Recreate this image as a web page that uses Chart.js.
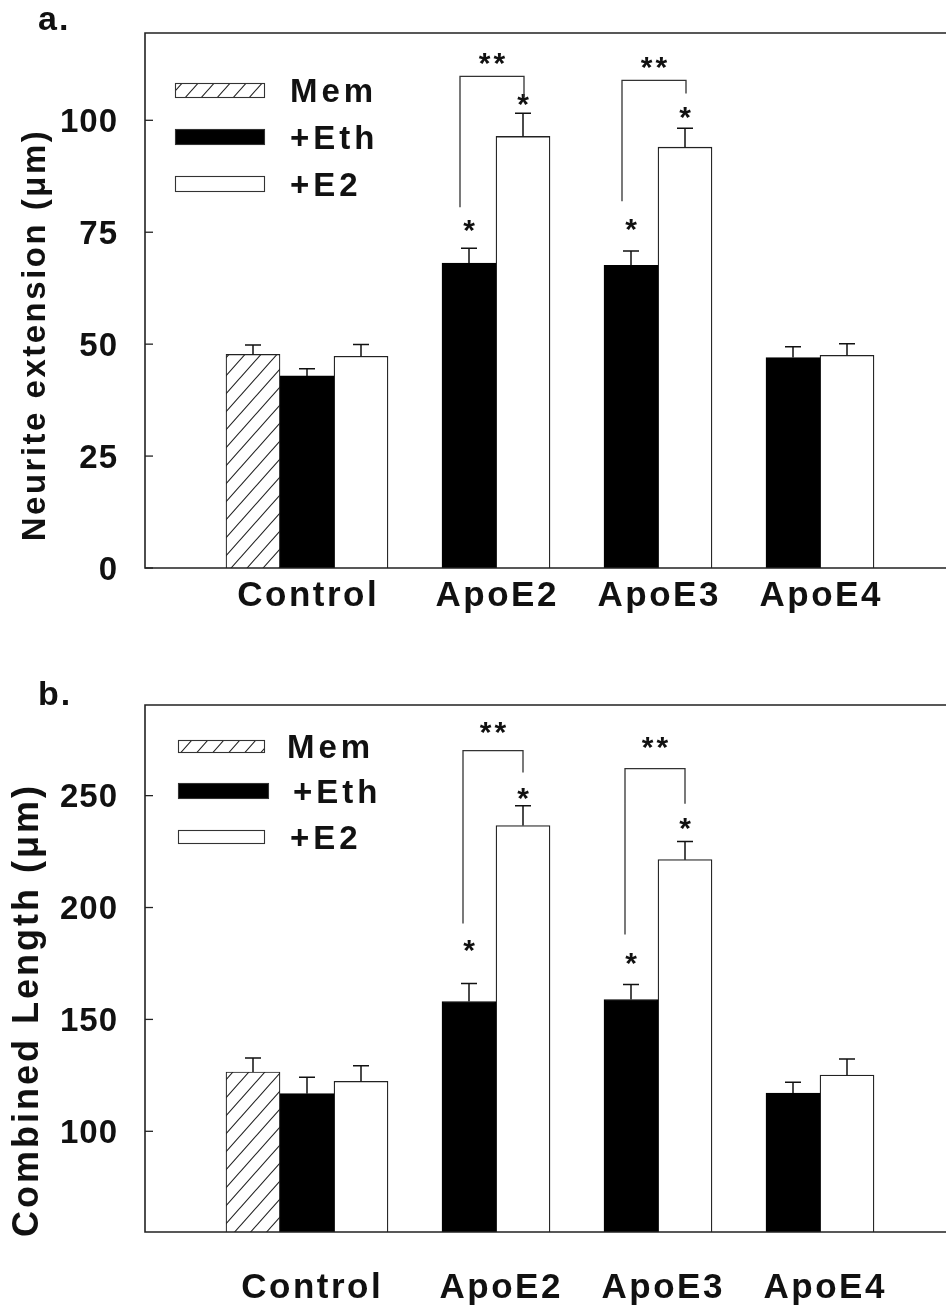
<!DOCTYPE html>
<html><head><meta charset="utf-8">
<script src="https://cdn.jsdelivr.net/npm/chart.js@4"></script>
<style>
html,body{margin:0;padding:0;background:#fff;overflow:hidden;width:946px;height:1305px;}
#wrap{position:relative;width:946px;height:1305px;overflow:hidden;background:#fff;}
canvas{position:absolute;left:0;display:block;}
</style></head><body>
<div id="wrap">
<canvas id="ca" width="1000" height="650" style="top:0;width:1000px;height:650px"></canvas>
<canvas id="cb" width="1000" height="655" style="top:650px;width:1000px;height:655px"></canvas>
</div>
<script>
// ---------- data ----------
const categories = ['Control', 'ApoE2', 'ApoE3', 'ApoE4'];
const seriesNames = ['Mem', '+Eth', '+E2'];

// panel a: Neurite extension (um)
const aMem    = [47.7, null, null, null];
const aMemErr = [2.1, null, null, null];
const aEth    = [42.9, 68.1, 67.6, 47.0];
const aEthErr = [1.6, 3.3, 3.2, 2.4];
const aE2     = [47.3, 96.4, 94.0, 47.5];
const aE2Err  = [2.6, 5.2, 4.2, 2.6];
const aTicks  = [0, 25, 50, 75, 100];
const aRange  = [0, 119.5];
// single stars: [category, series index, y value]
const aStars  = [['ApoE2', 1, 76.3], ['ApoE2', 2, 104.5], ['ApoE3', 1, 76.6], ['ApoE3', 2, 101.6]];
// brackets: [category, left foot, top, right foot, "**" level]
const aBrackets = [['ApoE2', 80.6, 109.8, 105.1, 113.8], ['ApoE3', 81.9, 108.9, 106.0, 112.7]];

// panel b: Combined Length (um)
const bMem    = [126.5, null, null, null];
const bMemErr = [6.2, null, null, null];
const bEth    = [116.8, 158.0, 158.9, 117.1];
const bEthErr = [7.4, 8.1, 6.7, 4.8];
const bE2     = [122.3, 236.6, 221.4, 125.1];
const bE2Err  = [7.0, 8.9, 8.1, 7.2];
const bTicks  = [100, 150, 200, 250];
const bRange  = [55, 290.5];
const bStars  = [['ApoE2', 1, 182.6], ['ApoE2', 2, 250.9], ['ApoE3', 1, 176.8], ['ApoE3', 2, 237.1]];
const bBrackets = [['ApoE2', 192.9, 270.1, 260.3, 280.4], ['ApoE3', 187.9, 262.1, 246.4, 273.7]];

// ---------- styles ----------
const FONT = "'Liberation Sans', Arial, Helvetica, sans-serif";
function makeHatch(w, h) {
  const c = document.createElement('canvas'); c.width = w; c.height = h;
  const g = c.getContext('2d');
  g.fillStyle = '#fff'; g.fillRect(0, 0, w, h);
  g.strokeStyle = '#222'; g.lineWidth = 1.1;
  g.beginPath();
  for (let k = -1; k <= 1; k++) { g.moveTo(-w + k * w, 2 * h); g.lineTo(2 * w + k * w, -h); }
  g.stroke();
  return g.createPattern(c, 'repeat');
}
const hatchA = makeHatch(16, 18);

function textCentered(ctx, text, x, y) {
  const m = ctx.measureText(text);
  const asc = m.actualBoundingBoxAscent, desc = m.actualBoundingBoxDescent;
  ctx.textBaseline = 'alphabetic';
  ctx.fillText(text, x, y + (asc - desc) / 2);
}

const panelPlugin = {
  id: 'panel',
  afterDatasetsDraw(chart, args, o) {
    const ctx = chart.ctx;
    const { left, top, bottom } = chart.chartArea;
    const ys = chart.scales.y;
    const W = chart.width;
    const labels = chart.data.labels;
    const barAt = (cat, d) => chart.getDatasetMeta(d).data[labels.indexOf(cat)];
    ctx.save();
    // error bars (upper only)
    ctx.strokeStyle = '#111'; ctx.lineWidth = 1.5;
    chart.data.datasets.forEach((ds, d) => {
      const meta = chart.getDatasetMeta(d);
      ds.data.forEach((v, i) => {
        if (v == null) return;
        const el = meta.data[i];
        const yt = ys.getPixelForValue(v + ds.errs[i]);
        ctx.beginPath();
        ctx.moveTo(el.x, el.y); ctx.lineTo(el.x, yt);
        ctx.moveTo(el.x - 8, yt); ctx.lineTo(el.x + 8, yt);
        ctx.stroke();
      });
    });
    // frame
    ctx.strokeStyle = '#222'; ctx.lineWidth = 1.6;
    ctx.beginPath();
    ctx.moveTo(W, top); ctx.lineTo(left, top); ctx.lineTo(left, bottom); ctx.lineTo(W, bottom);
    ctx.stroke();
    // inward y ticks + labels
    ctx.lineWidth = 1.3;
    ctx.fillStyle = '#111';
    ctx.font = `bold 33px ${FONT}`;
    ctx.letterSpacing = '1px';
    ctx.textAlign = 'right';
    ys.ticks.forEach(t => {
      const y = ys.getPixelForValue(t.value);
      ctx.beginPath(); ctx.moveTo(left, y); ctx.lineTo(left + 8, y); ctx.stroke();
      textCentered(ctx, String(t.value), left - 27, y);
    });
    // x category labels centred on the bars present in each group
    ctx.textAlign = 'center';
    ctx.font = `bold 35px ${FONT}`;
    ctx.letterSpacing = '2.5px';
    categories.forEach(cat => {
      const xsList = [];
      chart.data.datasets.forEach((ds, d) => {
        const i = labels.indexOf(cat);
        if (ds.data[i] != null) xsList.push(chart.getDatasetMeta(d).data[i].x);
      });
      const cx = xsList.reduce((a, b) => a + b, 0) / xsList.length;
      ctx.textBaseline = 'alphabetic';
      ctx.fillText(cat, cx + o.xLabelDx + 1.25, o.xLabelBase);
    });
    // y title
    ctx.save();
    ctx.translate(o.titleX, o.titleY);
    ctx.rotate(-Math.PI / 2);
    ctx.font = `bold ${o.titleSize}px ${FONT}`;
    ctx.letterSpacing = o.titleSpacing + 'px';
    ctx.textAlign = 'center';
    textCentered(ctx, o.title, 0, 0);
    ctx.restore();
    // panel letter
    ctx.font = `bold 34px ${FONT}`;
    ctx.letterSpacing = '2px';
    ctx.textAlign = 'left';
    ctx.textBaseline = 'alphabetic';
    ctx.fillText(o.letter, o.letterX, o.letterY);
    // legend
    const L = o.legend;
    const fills = [hatchA, '#000', '#fff'];
    L.items.forEach((it, k) => {
      ctx.fillStyle = fills[k];
      ctx.fillRect(L.x, it.y, it.w, it.h);
      ctx.strokeStyle = '#333'; ctx.lineWidth = 1.1;
      ctx.strokeRect(L.x + 0.5, it.y + 0.5, it.w - 1, it.h - 1);
      ctx.fillStyle = '#111';
      ctx.font = `bold 33px ${FONT}`;
      ctx.letterSpacing = '4px';
      ctx.textAlign = 'left';
      textCentered(ctx, seriesNames[k], it.tx, it.y + it.h / 2);
    });
    // significance stars
    ctx.letterSpacing = '0px';
    ctx.font = `bold 30px ${FONT}`;
    ctx.textAlign = 'center';
    o.stars.forEach(([cat, d, v]) => {
      const el = barAt(cat, d);
      textCentered(ctx, '*', el.x, ys.getPixelForValue(v));
    });
    // brackets
    ctx.strokeStyle = '#333'; ctx.lineWidth = 1.3;
    o.brackets.forEach(([cat, lf, tp, rf, lv]) => {
      const x1 = barAt(cat, 1).x + o.bracketDx[0];
      const x2 = barAt(cat, 2).x + o.bracketDx[1];
      ctx.beginPath();
      ctx.moveTo(x1, ys.getPixelForValue(lf));
      ctx.lineTo(x1, ys.getPixelForValue(tp));
      ctx.lineTo(x2, ys.getPixelForValue(tp));
      ctx.lineTo(x2, ys.getPixelForValue(rf));
      ctx.stroke();
      ctx.letterSpacing = '3px';
      textCentered(ctx, '**', (x1 + x2) / 2 + 1.5, ys.getPixelForValue(lv));
      ctx.letterSpacing = '0px';
    });
    ctx.restore();
  }
};

function makeChart(id, series, range, ticks, cfg) {
  const pad = a => [null, ...a, null];
  const labels = ['', ...categories, ''];
  const [mem, memErr, eth, ethErr, e2, e2Err] = series;
  return new Chart(document.getElementById(id), {
    type: 'bar',
    data: {
      labels,
      datasets: [
        { label: seriesNames[0], data: pad(mem), errs: pad(memErr), backgroundColor: hatchA, borderColor: '#222', borderWidth: 1.2 },
        { label: seriesNames[1], data: pad(eth), errs: pad(ethErr), backgroundColor: '#000', borderColor: '#000', borderWidth: 1 },
        { label: seriesNames[2], data: pad(e2), errs: pad(e2Err), backgroundColor: '#fff', borderColor: '#222', borderWidth: 1.3 }
      ]
    },
    options: {
      responsive: false, animation: false, devicePixelRatio: 1,
      datasets: { bar: { categoryPercentage: 1, barPercentage: 1 } },
      layout: { padding: { top: cfg.top, right: 45, left: 0, bottom: 0 } },
      plugins: { legend: { display: false }, tooltip: { enabled: false }, panel: cfg },
      scales: {
        x: { offset: false, grid: { display: false, drawTicks: false }, border: { display: false },
             ticks: { display: false }, afterFit: s => { s.height = cfg.xAxisH; } },
        y: { min: range[0], max: range[1], grid: { display: false, drawTicks: false }, border: { display: false },
             ticks: { display: false }, afterFit: s => { s.width = 145; },
             afterBuildTicks: s => { s.ticks = ticks.map(v => ({ value: v })); } }
      }
    },
    plugins: [panelPlugin]
  });
}

makeChart('ca', [aMem, aMemErr, aEth, aEthErr, aE2, aE2Err], aRange, aTicks, {
  top: 33, xAxisH: 82, xLabelBase: 606, xLabelDx: 0,
  title: 'Neurite extension (\u03bcm)', titleX: 36, titleY: 335, titleSize: 33, titleSpacing: 2.5,
  letter: 'a.', letterX: 38, letterY: 30,
  legend: { x: 175, items: [ { y: 83, h: 15, w: 90, tx: 290 }, { y: 129, h: 16, w: 90, tx: 290 }, { y: 176, h: 16, w: 90, tx: 290 } ] },
  stars: aStars, brackets: aBrackets, bracketDx: [-9, 1]
});
makeChart('cb', [bMem, bMemErr, bEth, bEthErr, bE2, bE2Err], bRange, bTicks, {
  top: 55, xAxisH: 73, xLabelBase: 648, xLabelDx: 4,
  title: 'Combined Length (\u03bcm)', titleX: 28, titleY: 360, titleSize: 36, titleSpacing: 3,
  letter: 'b.', letterX: 38, letterY: 55,
  legend: { x: 178, items: [ { y: 90, h: 13, w: 87, tx: 287 }, { y: 133, h: 16, w: 91, tx: 293 }, { y: 180, h: 14, w: 87, tx: 290 } ] },
  stars: bStars, brackets: bBrackets, bracketDx: [-6, 0]
});
</script>
</body></html>
